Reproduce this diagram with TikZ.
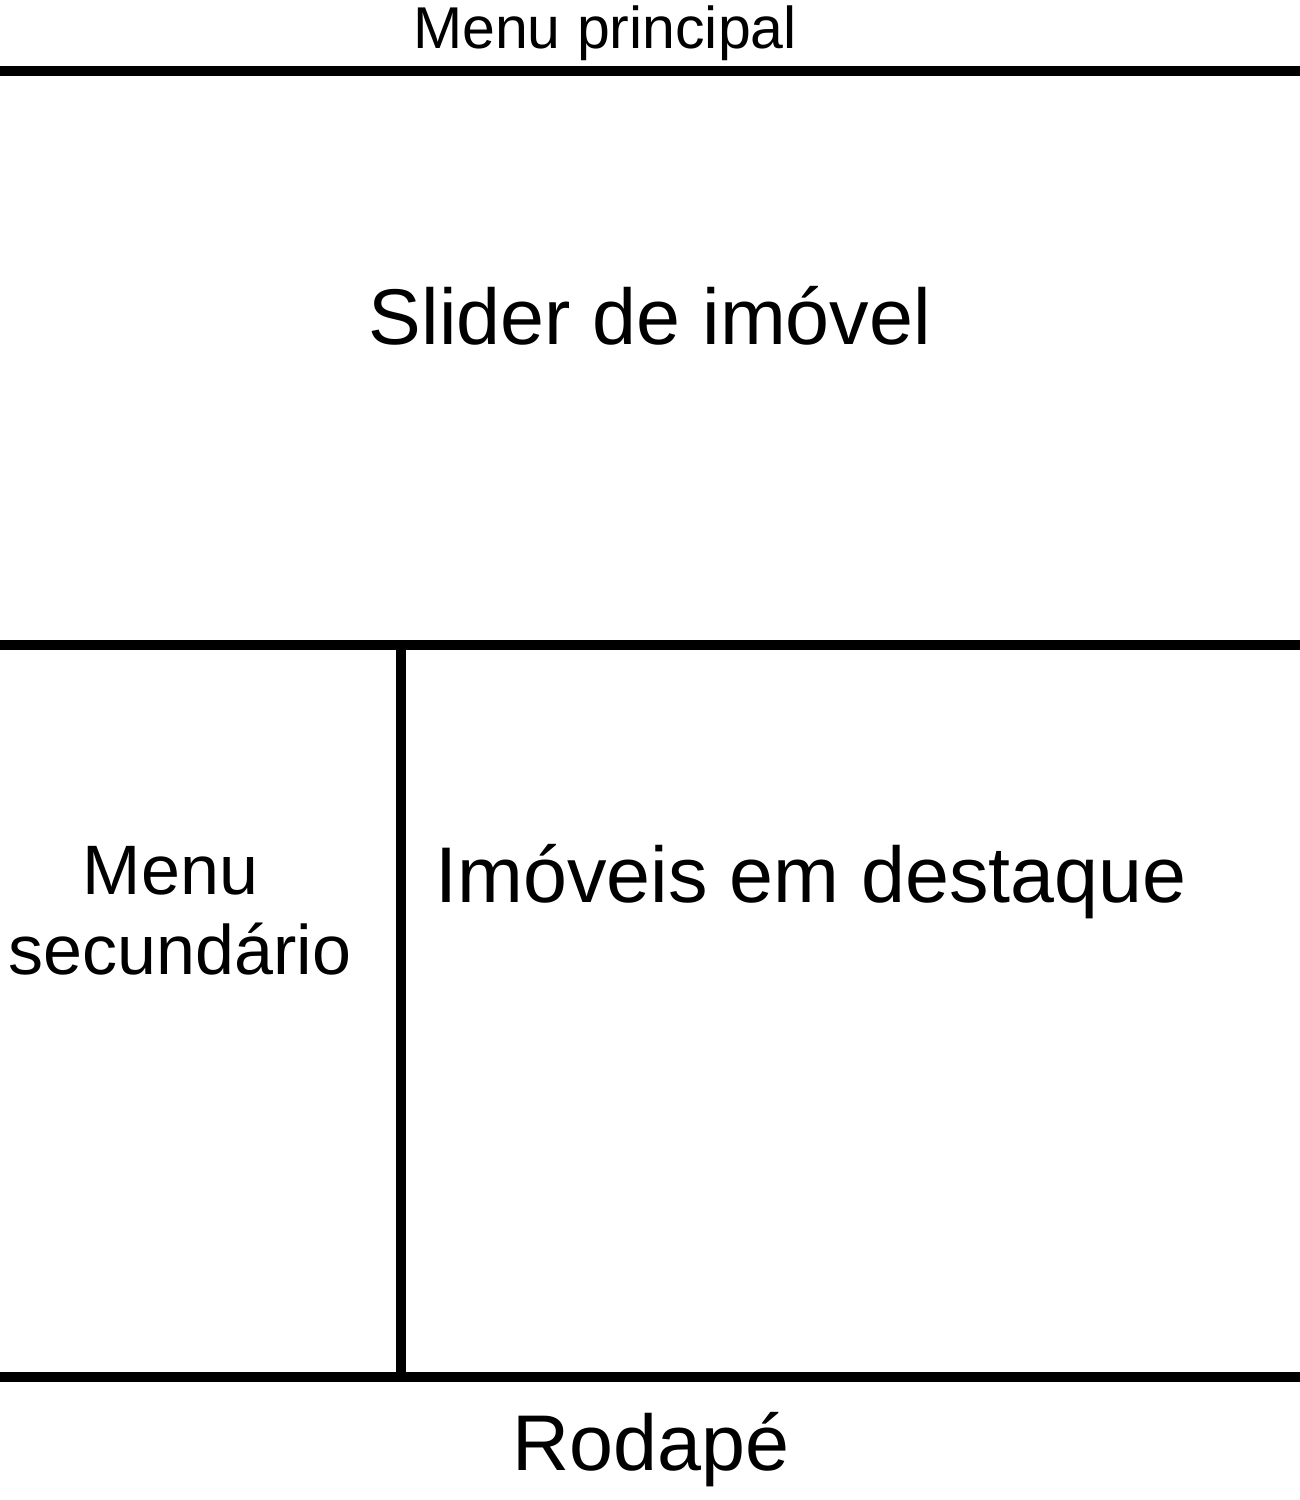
\documentclass[tikz,border=0pt]{standalone}
\usepackage{fontspec}
\setmainfont{Liberation Sans}
\tikzset{
  rule/.style={line width=10pt, black},
  lbl/.style={anchor=base, inner sep=0pt, outer sep=0pt},
  small/.style={lbl, font=\fontsize{59}{70}\selectfont},
  big/.style={lbl, font=\fontsize{79}{94}\selectfont},
  mid/.style={lbl, font=\fontsize{70}{80}\selectfont, align=center},
}
\begin{document}
\begin{tikzpicture}[x=1pt,y=-1pt]
\useasboundingbox (0,0) rectangle (1300,1500);
\coordinate (t1) at (0,71);
\coordinate (t2) at (1300,71);
\coordinate (m1) at (0,645);
\coordinate (m2) at (1300,645);
\coordinate (b1) at (0,1377);
\coordinate (b2) at (1300,1377);
\coordinate (v1) at (401,650);
\coordinate (v2) at (401,1372);
\draw[rule] (t1) -- (t2);
\draw[rule] (m1) -- (m2);
\draw[rule] (b1) -- (b2);
\draw[rule] (v1) -- (v2);
\node[small] (mp) at (605,48) {Menu principal};
\node[big] (sl) at (650,344) {Slider de imóvel};
\node[big] (im) at (811,902) {Imóveis em destaque};
\node[mid, anchor=north] (ms) at (180,846) {Menu\hbox to 19pt{}\\secundário};
\node[big] (rd) at (651,1470) {Rodapé};
\end{tikzpicture}
\end{document}
